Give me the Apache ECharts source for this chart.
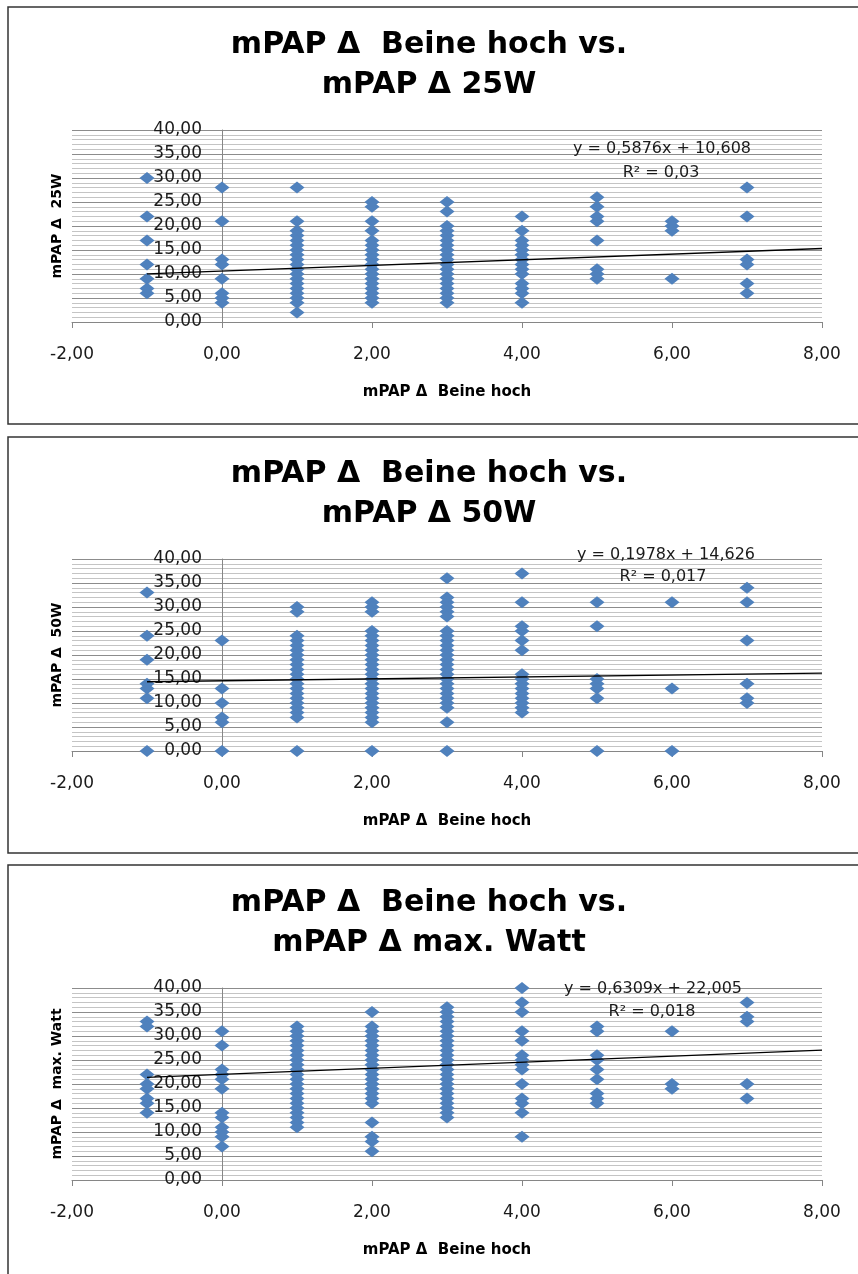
<!DOCTYPE html>
<html><head><meta charset="utf-8">
<script src="https://cdn.jsdelivr.net/npm/echarts@6/dist/echarts.min.js"></script>
<style>html,body{margin:0;padding:0;background:#fff}#c{width:858px;height:1274px}</style>
</head><body><div id="c"></div>
<script>
// ---------- data ----------
const xCols = [-1, 0, 1, 2, 3, 4, 5, 6, 7];

const panel1Y = [
  [30, 22, 17, 12, 9, 7, 6],
  [28, 21, 13, 12, 9, 6, 5, 4],
  [28, 21, 19, 18, 17, 16, 15, 14, 13, 12, 11, 10, 9, 8, 7, 6, 5, 4, 2],
  [25, 24, 21, 19, 17, 16, 15, 14, 13, 12, 11, 10, 9, 8, 7, 6, 5, 4],
  [25, 23, 20, 19, 18, 17, 16, 15, 14, 13, 12, 11, 10, 9, 8, 7, 6, 5, 4],
  [22, 19, 17, 16, 15, 14, 13, 12, 11, 10, 8, 7, 6, 4],
  [26, 24, 22, 21, 17, 11, 10, 9],
  [21, 20, 19, 9],
  [28, 22, 13, 12, 8, 6]
];
const panel2Y = [
  [33, 24, 19, 14, 13, 11, 0],
  [23, 13, 10, 7, 6, 0],
  [30, 29, 24, 23, 22, 21, 20, 19, 18, 17, 16, 15, 14, 13, 12, 11, 10, 9, 8, 7, 0],
  [31, 30, 29, 25, 24, 23, 22, 21, 20, 19, 18, 17, 16, 15, 14, 13, 12, 11, 10, 9, 8, 7, 6, 0],
  [36, 32, 31, 30, 29, 28, 25, 24, 23, 22, 21, 20, 19, 18, 17, 16, 15, 14, 13, 12, 11, 10, 9, 6, 0],
  [37, 31, 26, 25, 23, 21, 16, 15, 14, 13, 12, 11, 10, 9, 8],
  [31, 26, 15, 14, 13, 11, 0],
  [31, 13, 0],
  [34, 31, 23, 14, 11, 10]
];
const panel3Y = [
  [33, 32, 22, 20, 19, 17, 16, 14],
  [31, 28, 23, 22, 21, 19, 14, 13, 11, 10, 9, 7],
  [32, 31, 30, 29, 28, 27, 26, 25, 24, 23, 22, 21, 20, 19, 18, 17, 16, 15, 14, 13, 12, 11],
  [35, 32, 31, 30, 29, 28, 27, 26, 25, 24, 23, 22, 21, 20, 19, 18, 17, 16, 12, 9, 8, 6],
  [36, 35, 34, 33, 32, 31, 30, 29, 28, 27, 26, 25, 24, 23, 22, 21, 20, 19, 18, 17, 16, 15, 14, 13],
  [40, 37, 35, 31, 29, 26, 25, 24, 23, 20, 17, 16, 14, 9],
  [32, 31, 26, 25, 23, 21, 18, 17, 16],
  [31, 20, 19],
  [37, 34, 33, 20, 17]
];

// trend line end points (x, y)
const trend1 = [[-1, 10.02], [8, 15.31]];
const trend2 = [[-1, 14.43], [8, 16.21]];
const trend3 = [[-1, 21.37], [8, 27.05]];

const titleLine1 = 'mPAP Δ  Beine hoch vs.';
const titleLine2 = ['mPAP Δ 25W', 'mPAP Δ 50W', 'mPAP Δ max. Watt'];
const xTitle = 'mPAP Δ  Beine hoch';
const yTitles = ['mPAP Δ  25W', 'mPAP Δ  50W', 'mPAP Δ  max. Watt'];
const equations = ['y = 0,5876x + 10,608', 'y = 0,1978x + 14,626', 'y = 0,6309x + 22,005'];
const rSquared = ['R² = 0,03', 'R² = 0,017', 'R² = 0,018'];

const xMin = -2, xMax = 8, xStep = 2;
const yMin = 0, yMax = 40, yStep = 5;

// ---------- layout ----------
const panelsY = [panel1Y, panel2Y, panel3Y];
const trends = [trend1, trend2, trend3];
const boxTop = [7, 437, 865];
const boxH = [417, 416, 500];
const gridTop = [130, 559, 988];
const titleTop = [20, 449, 878];
const eqPos = [[662, 149, 661, 173], [666, 555, 663, 577], [653, 989, 652, 1012]];

const FONT = 'DejaVu Sans';
const fmt = v => v.toFixed(2).replace('.', ',');

const chart = echarts.init(document.getElementById('c'), null, {renderer: 'canvas'});

const title = [], grid = [], xAxis = [], yAxis = [], series = [], graphic = [];

for (let i = 0; i < 3; i++) {
  title.push({
    text: titleLine1 + '\n' + titleLine2[i],
    left: 'center', top: titleTop[i],
    textStyle: {fontFamily: FONT, fontWeight: 'bold', fontSize: 30, lineHeight: 40, color: '#000'}
  });
  grid.push({left: 72, right: 36, top: gridTop[i], height: 192, containLabel: false, outerBoundsMode: 'none'});
  xAxis.push({
    gridIndex: i, type: 'value', min: xMin, max: xMax, interval: xStep,
    axisLine: {show: true, onZero: true, lineStyle: {color: '#868686', width: 1}},
    axisTick: {show: true, length: 6, lineStyle: {color: '#868686'}},
    axisLabel: {margin: 24, fontFamily: FONT, fontSize: 17, color: '#1a1a1a', formatter: fmt},
    splitLine: {show: false},
    name: xTitle, nameLocation: 'middle', nameGap: 63,
    nameTextStyle: {fontFamily: FONT, fontWeight: 'bold', fontSize: 15, color: '#000'}
  });
  yAxis.push({
    gridIndex: i, type: 'value', min: yMin, max: yMax, interval: yStep,
    axisLine: {show: true, onZero: true, lineStyle: {color: '#868686', width: 1}},
    axisTick: {show: false},
    minorTick: {show: false, splitNumber: 5},
    axisLabel: {margin: -130, fontFamily: FONT, fontSize: 17, color: '#1a1a1a', formatter: fmt},
    splitLine: {show: true, lineStyle: {color: '#8c8c8c', width: 1}},
    minorSplitLine: {show: true, lineStyle: {color: '#c4c4c4', width: 1}},
    name: yTitles[i], nameLocation: 'middle', nameGap: 8,
    nameTextStyle: {fontFamily: FONT, fontWeight: 'bold', fontSize: 14, color: '#000'}
  });
  const pts = [];
  xCols.forEach((x, k) => panelsY[i][k].forEach(y => pts.push([x, y])));
  series.push({
    type: 'scatter', xAxisIndex: i, yAxisIndex: i, data: pts,
    symbol: 'diamond', symbolSize: [15, 12],
    itemStyle: {color: '#4F81BD', opacity: 1}, z: 3
  });
  series.push({
    type: 'line', xAxisIndex: i, yAxisIndex: i, data: trends[i],
    symbol: 'none', silent: true,
    lineStyle: {color: '#000', width: 1.3}, z: 4
  });
  graphic.push({
    type: 'rect', shape: {x: 8, y: boxTop[i], width: 900, height: boxH[i]},
    style: {fill: 'none', stroke: '#333', lineWidth: 1.5}, z: -1, silent: true
  });
  graphic.push({
    type: 'text', x: eqPos[i][0], y: eqPos[i][1], z: 10,
    style: {text: equations[i], align: 'center', verticalAlign: 'middle', fontFamily: FONT, fontSize: 16, fill: '#1a1a1a'}
  });
  graphic.push({
    type: 'text', x: eqPos[i][2], y: eqPos[i][3], z: 10,
    style: {text: rSquared[i], align: 'center', verticalAlign: 'middle', fontFamily: FONT, fontSize: 16, fill: '#1a1a1a'}
  });
}

chart.setOption({
  animation: false,
  backgroundColor: '#fff',
  title, grid, xAxis, yAxis, series, graphic
});
</script>
</body></html>
